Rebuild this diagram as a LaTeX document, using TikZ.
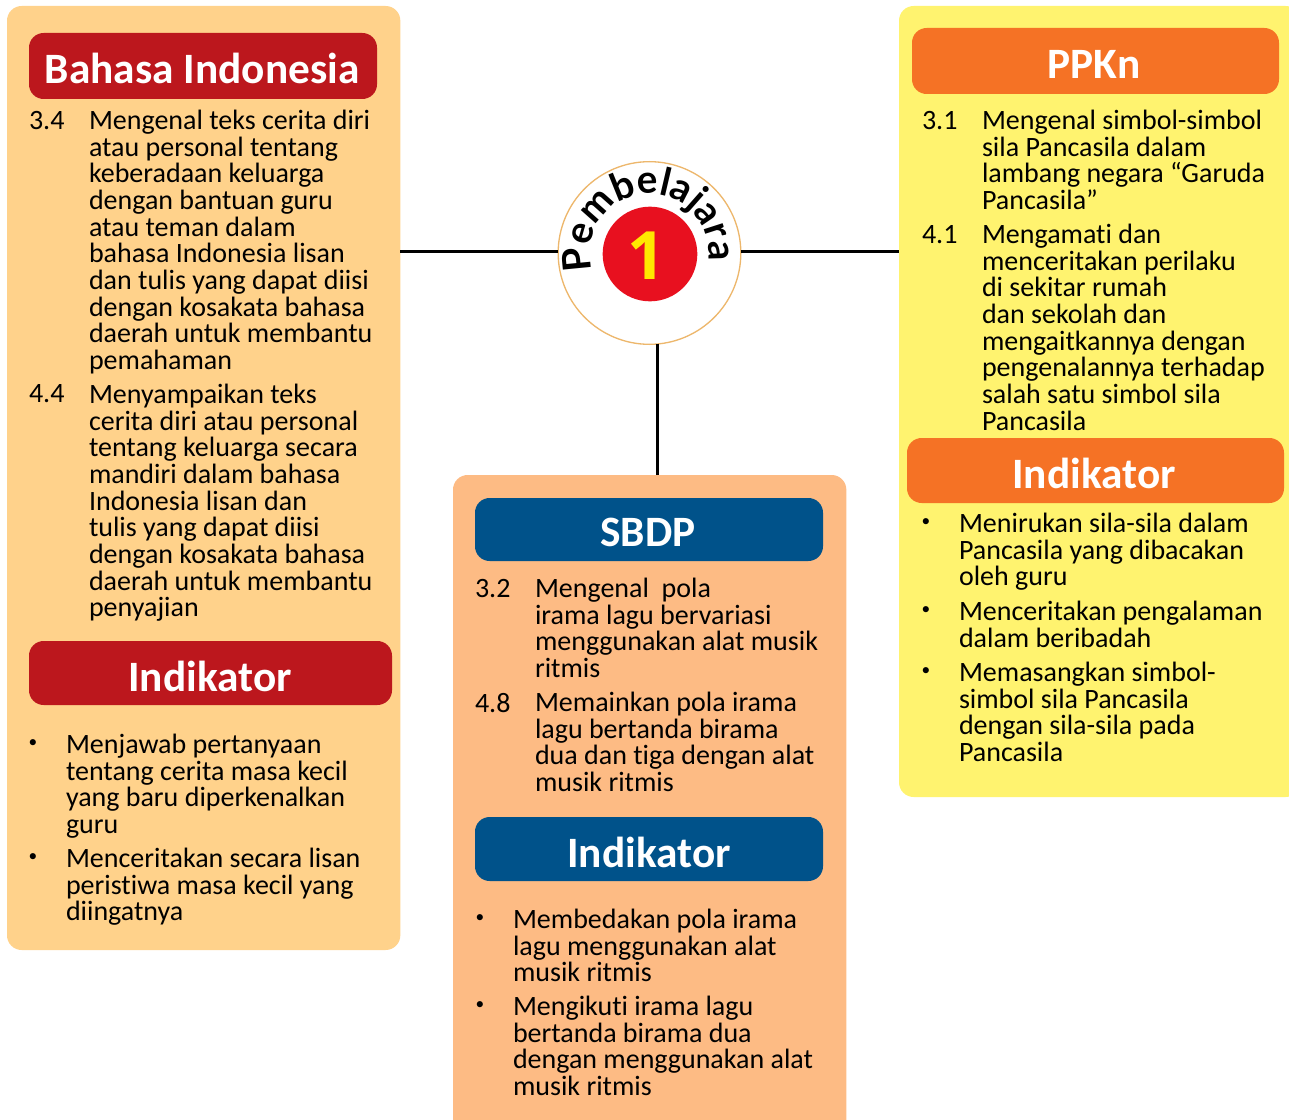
\documentclass[tikz,border=0pt]{standalone}
\usepackage{fontspec}
\usepackage{tikz}
\usetikzlibrary{decorations.text}
\setmainfont{Carlito}[Ligatures=NoCommon]
\newfontfamily\badgefont{Lato}
\newfontfamily\numfont{Open Sans}
\definecolor{panelorange}{HTML}{FFD28B}
\definecolor{panelpeach}{HTML}{FDBB84}
\definecolor{panelyellow}{HTML}{FFF36F}
\definecolor{barred}{HTML}{BC171D}
\definecolor{barorange}{HTML}{F57225}
\definecolor{barblue}{HTML}{00528A}
\definecolor{badgered}{HTML}{E8101F}
\definecolor{badgeyellow}{HTML}{FFE800}
\definecolor{badgerim}{HTML}{EDB76C}

\begin{document}
\begin{tikzpicture}[x=0.75pt,y=-0.75pt]
		\tikzstyle{every node}=[inner sep=0pt,outer sep=0pt]
		\tikzstyle{panel}=[rounded corners=11pt]
		\tikzstyle{bar}=[rounded corners=11pt]
		\tikzstyle{title}=[text=white,font=\fontsize{32.5}{33}\selectfont\bfseries]
		\tikzstyle{body}=[anchor=north west,align=left,font=\fontsize{21}{20}\selectfont]
		\tikzstyle{dot}=[font=\fontsize{13}{13}\selectfont]
		\tikzstyle{wire}=[line width=1.8pt]

		\useasboundingbox (0,0) rectangle (1289,1120);

		% panels
		\node[panel,fill=panelorange,minimum width=295pt,minimum height=708pt,anchor=north west] (BI) at (7,6) {};
		\node[panel,fill=panelpeach,minimum width=295pt,minimum height=505pt,anchor=north west] (SBDP) at (453,475) {};
		\node[panel,fill=panelyellow,minimum width=301pt,minimum height=593.25pt,anchor=north west] (PPKn) at (899,6) {};

		% badge
		\node[circle,draw=badgerim,fill=white,line width=1pt,minimum size=137pt] (badge) at (649.5,253) {};
		\node[circle,fill=badgered,minimum size=71pt] (badge1) at (650,254) {};
		\node[text=badgeyellow,font=\numfont\fontsize{50}{50}\selectfont\bfseries] at (647,256) {1};
		\path[decorate,decoration={text along path,text align=fit to path,text={|\badgefont\bfseries\fontsize{29}{29}\selectfont|Pembelajaran}}]
			(badge.center) ++(197:44.5pt) arc[start angle=197,end angle=-17,radius=44.5pt];

		% connectors
		\draw[wire] (badge.179) -- (badge.179 -| BI.east);
		\draw[wire] (badge.1) -- (badge.1 -| PPKn.west);
		\draw[wire] (badge.-85) -- (badge.-85 |- SBDP.north);

		% Bahasa Indonesia
		\fill[bar,barred] (29,33) rectangle (377,99);
		\node[title] (BItitle) at (202,68) {Bahasa Indonesia};
		\node[body] (n34) at (29,111) {3.4};
		\node[body] (t34) at (89,110) {Mengenal teks cerita diri\\atau personal tentang\\keberadaan keluarga\\dengan bantuan guru\\atau teman dalam\\bahasa Indonesia lisan\\dan tulis yang dapat diisi\\dengan kosakata bahasa\\daerah untuk membantu\\pemahaman};
		\node[body] (n44) at (29,385) {4.4};
		\node[body] (t44) at (89,384) {Menyampaikan teks\\cerita diri atau personal\\tentang keluarga secara\\mandiri dalam bahasa\\Indonesia lisan dan\\tulis yang dapat diisi\\dengan kosakata bahasa\\daerah untuk membantu\\penyajian};
		\fill[bar,barred] (29,641) rectangle (392,705);
		\node[title] (BIind) at (210,676) {Indikator};
		\node[dot] (b1) at (33,744) {•};
		\node[body] (i1) at (66,734) {Menjawab pertanyaan\\tentang cerita masa kecil\\yang baru diperkenalkan\\guru};
		\node[dot] (b2) at (33,858) {•};
		\node[body] (i2) at (66,848) {Menceritakan secara lisan\\peristiwa masa kecil yang\\diingatnya};

		% SBDP
		\fill[bar,barblue] (475,498) rectangle (823,561);
		\node[title] (SBDPtitle) at (648,532) {SBDP};
		\node[body] (n32) at (475,579) {3.2};
		\node[body] (t32) at (535,578) {Mengenal\ \ pola\\irama lagu bervariasi\\menggunakan alat musik\\ritmis};
		\node[body] (n48) at (475,693) {4.8};
		\node[body] (t48) at (535,692) {Memainkan pola irama\\lagu bertanda birama\\dua dan tiga dengan alat\\musik ritmis};
		\fill[bar,barblue] (475,817) rectangle (823,881);
		\node[title] (SBDPind) at (649,852) {Indikator};
		\node[dot] (b3) at (480,919) {•};
		\node[body] (i3) at (513,909) {Membedakan pola irama\\lagu menggunakan alat\\musik ritmis};
		\node[dot] (b4) at (480,1006) {•};
		\node[body] (i4) at (513,996) {Mengikuti irama lagu\\bertanda birama dua\\dengan menggunakan alat\\musik ritmis};

		% PPKn
		\fill[bar,barorange] (912,28) rectangle (1279,94);
		\node[title] (PPKntitle) at (1094,64) {PPKn};
		\node[body] (n31) at (922,111) {3.1};
		\node[body] (t31) at (982,110) {Mengenal simbol-simbol\\sila Pancasila dalam\\lambang negara “Garuda\\Pancasila”};
		\node[body] (n41) at (922,225) {4.1};
		\node[body] (t41) at (982,224) {Mengamati dan\\menceritakan perilaku\\di sekitar rumah\\dan sekolah dan\\mengaitkannya dengan\\pengenalannya terhadap\\salah satu simbol sila\\Pancasila};
		\fill[bar,barorange] (907,438) rectangle (1284,503);
		\node[title] (PPKnind) at (1094,473) {Indikator};
		\node[dot] (b5) at (926,523) {•};
		\node[body] (i5) at (959,513) {Menirukan sila-sila dalam\\Pancasila yang dibacakan\\oleh guru};
		\node[dot] (b6) at (926,611) {•};
		\node[body] (i6) at (959,601) {Menceritakan pengalaman\\dalam beribadah};
		\node[dot] (b7) at (926,672) {•};
		\node[body] (i7) at (959,662) {Memasangkan simbol-\\simbol sila Pancasila\\dengan sila-sila pada\\Pancasila};
	\end{tikzpicture}
\end{document}
